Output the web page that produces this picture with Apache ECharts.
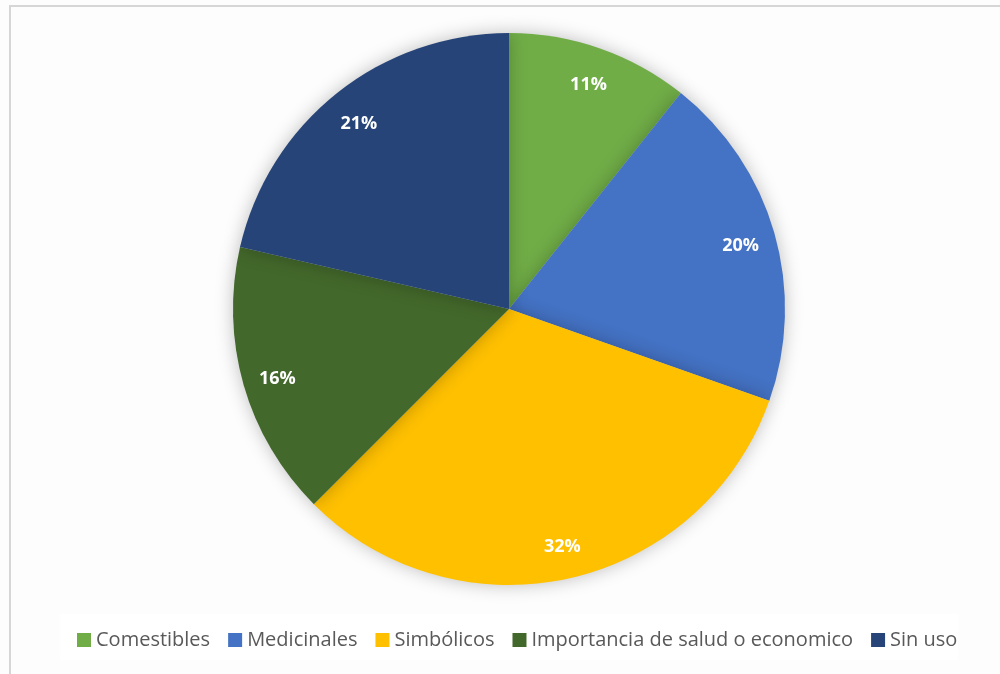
<!DOCTYPE html>
<html><head><meta charset="utf-8">
<script src="https://cdn.jsdelivr.net/npm/echarts@6/dist/echarts.min.js"></script>
<style>html,body{margin:0;padding:0;background:#fff}#c{width:1000px;height:674px}</style>
</head><body><div id="c"></div>
<script>
const categories = ['Comestibles','Medicinales','Simbólicos','Importancia de salud o economico','Sin uso'];
const values = [10.7, 19.7, 32.1, 16.1, 21.4];
const colors = ['#70AD47','#4472C4','#FFC000','#43682B','#264478'];

const data = categories.map((n,i)=>({name:n, value:values[i], itemStyle:{color:colors[i]}}));
const chart = echarts.init(document.getElementById('c'));
chart.setOption({
  backgroundColor:'#fdfdfd',
  animation:false,
  graphic:[
    {type:'rect', shape:{x:10,y:6,width:1000,height:680}, style:{fill:'none',stroke:'#d6d6d6',lineWidth:2}, silent:true, z:100},
    {type:'rect', shape:{x:60,y:614,width:898,height:46}, style:{fill:'#ffffff'}, silent:true, z:-1}
  ],
  legend:{
    top:625, left:72, itemWidth:14, itemHeight:14, itemGap:18, icon:'rect',
    textStyle:{fontFamily:'Open Sans', fontSize:20, color:'#595959', padding:[0,0,0,0]},
    data:categories
  },
  series:[
    {type:'pie', center:[509,309], radius:[0,276], startAngle:90, clockwise:true,
     data:data, label:{show:false}, labelLine:{show:false},
     itemStyle:{shadowBlur:18, shadowColor:'rgba(0,0,0,0.25)'}, emphasis:{disabled:true}},
    {type:'pie', center:[509,309], radius:[202,274], startAngle:90, clockwise:true,
     data:data.map(d=>({name:d.name,value:d.value})), silent:true, legendHoverLink:false,
     itemStyle:{color:'rgba(0,0,0,0)'},
     label:{show:true, position:'inside', offset:[0,3], formatter:p=>Math.round(p.value)+'%', color:'#fff', fontWeight:'bold', fontSize:18, fontFamily:'Open Sans'},
     labelLine:{show:false}, emphasis:{disabled:true}}
  ]
});
</script></body></html>
